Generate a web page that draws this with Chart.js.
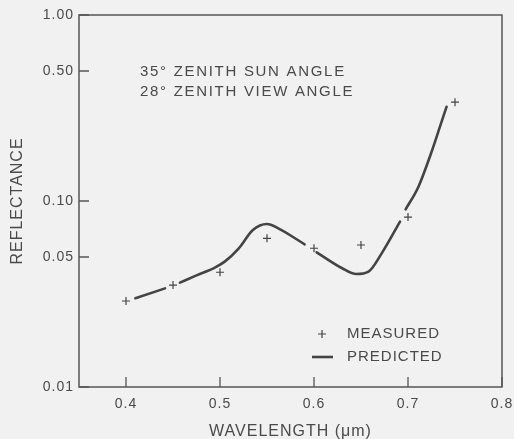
<!DOCTYPE html>
<html>
<head>
<meta charset="utf-8">
<style>
  html, body { margin: 0; padding: 0; background: #f1f1f1; }
  #wrap { width: 514px; height: 439px; }
</style>
</head>
<body>
<div id="wrap"><canvas id="reflChart" width="514" height="439"></canvas></div>

<script src="https://cdn.jsdelivr.net/npm/chart.js@4.4.0/dist/chart.umd.min.js"></script>
<script>
// measured reflectance (crosses)
const wavelengths = [0.40, 0.45, 0.50, 0.55, 0.60, 0.65, 0.70, 0.75];
const measured = [0.029, 0.0353, 0.0414, 0.063, 0.0557, 0.058, 0.082, 0.34];

// predicted curve (null = break in the line around a cross)
const predX = [0.41, 0.4415, 0.45, 0.4574, 0.475, 0.495, 0.505, 0.52, 0.535, 0.55, 0.562,
  0.590, 0.596, 0.6028, 0.63, 0.645, 0.658, 0.672, 0.6915, 0.694, 0.6975, 0.711, 0.7251, 0.734, 0.741];
const predY = [0.030, 0.0339, null, 0.0364, 0.0398, 0.044, 0.0472, 0.0557, 0.0698, 0.0752, 0.0713,
  0.0585, null, 0.053, 0.0435, 0.0405, 0.0417, 0.0523, 0.0774, null, 0.0902, 0.119, 0.184, 0.251, 0.321];

const xTicks = [0.4, 0.5, 0.6, 0.7, 0.8];
const yTicks = [0.01, 0.05, 0.10, 0.50, 1.00];
const notes = ['35\u00b0 ZENITH SUN ANGLE', '28\u00b0 ZENITH VIEW ANGLE'];

const INK = '#4a4a4a';
const FONT = "'Liberation Sans', Arial, sans-serif";

// the old typewriter-ish lettering is spaced out a bit
const spacing = {
  id: 'spacing',
  beforeUpdate(chart) { chart.ctx.letterSpacing = '1px'; },
  beforeDraw(chart) { chart.ctx.letterSpacing = '1px'; }
};

const framePlugin = {
  id: 'frame',
  afterDraw(chart) {
    const ctx = chart.ctx;
    const a = chart.chartArea;
    const xs = chart.scales.x, ys = chart.scales.y;
    ctx.save();
    ctx.strokeStyle = '#555';
    ctx.lineWidth = 1.5;
    ctx.strokeRect(a.left, a.top, a.right - a.left, a.bottom - a.top);

    // inward tick marks
    ctx.lineWidth = 1.3;
    ctx.beginPath();
    xTicks.forEach(v => {
      const px = xs.getPixelForValue(v);
      ctx.moveTo(px, a.bottom);
      ctx.lineTo(px, a.bottom - 10);
    });
    yTicks.forEach(v => {
      const py = ys.getPixelForValue(v);
      ctx.moveTo(a.left, py);
      ctx.lineTo(a.left + 10, py);
    });
    ctx.stroke();

    // notes
    ctx.fillStyle = INK;
    ctx.font = '15px ' + FONT;
    ctx.letterSpacing = '1.7px';
    ctx.textBaseline = 'middle';
    ctx.fillText(notes[0], 140, 72);
    ctx.fillText(notes[1], 140, 92);

    // legend
    const ds = chart.data.datasets;
    ctx.letterSpacing = '1px';
    ctx.fillText(ds[0].label, 347, 334);
    ctx.fillText(ds[1].label, 347, 357);
    ctx.strokeStyle = '#444';
    ctx.lineWidth = 1.2;
    ctx.beginPath();
    ctx.moveTo(318, 334); ctx.lineTo(326, 334);
    ctx.moveTo(322, 330); ctx.lineTo(322, 338);
    ctx.stroke();
    ctx.lineWidth = 2.6;
    ctx.beginPath();
    ctx.moveTo(312, 357); ctx.lineTo(333, 357);
    ctx.stroke();
    ctx.restore();
  }
};

new Chart(document.getElementById('reflChart'), {
  type: 'line',
  data: {
    datasets: [{
      label: 'MEASURED',
      data: wavelengths.map((w, i) => ({ x: w, y: measured[i] })),
      showLine: false,
      pointStyle: 'cross',
      pointRadius: 4,
      pointBorderWidth: 1.2,
      borderColor: '#444',
      backgroundColor: '#444'
    }, {
      label: 'PREDICTED',
      data: predX.map((w, i) => ({ x: w, y: predY[i] })),
      borderColor: '#444',
      borderWidth: 2.6,
      pointRadius: 0,
      cubicInterpolationMode: 'monotone',
      spanGaps: false,
      borderCapStyle: 'round'
    }]
  },
  plugins: [spacing, framePlugin],
  options: {
    responsive: false,
    animation: false,
    layout: { padding: { left: 0, top: 15, right: 12, bottom: -2 } },
    plugins: { legend: { display: false }, tooltip: { enabled: false } },
    scales: {
      x: {
        type: 'linear',
        min: 0.35,
        max: 0.8,
        afterBuildTicks: s => { s.ticks = xTicks.map(v => ({ value: v })); },
        afterFit: s => { s.height = 54; s.paddingLeft = 0; s.paddingRight = 0; },
        grid: { display: false, drawTicks: false },
        border: { display: false },
        ticks: {
          padding: 9,
          maxRotation: 0,
          color: INK,
          font: { family: FONT, size: 14 },
          callback: v => v.toFixed(1)
        },
        title: {
          display: true,
          text: 'WAVELENGTH (\u03bcm)',
          color: INK,
          font: { family: FONT, size: 16 },
          padding: { top: 0, bottom: 0 }
        }
      },
      y: {
        type: 'logarithmic',
        min: 0.01,
        max: 1,
        afterBuildTicks: s => { s.ticks = yTicks.map(v => ({ value: v })); },
        afterFit: s => { s.width = 79; s.paddingTop = 0; s.paddingBottom = 0; },
        grid: { display: false, drawTicks: false },
        border: { display: false },
        ticks: {
          padding: 5,
          color: INK,
          font: { family: FONT, size: 14 },
          callback: v => Number(v).toFixed(2)
        },
        title: {
          display: true,
          text: 'REFLECTANCE',
          color: INK,
          font: { family: FONT, size: 16 },
          padding: { top: 8, bottom: 0 }
        }
      }
    }
  }
});
</script>
</body>
</html>
